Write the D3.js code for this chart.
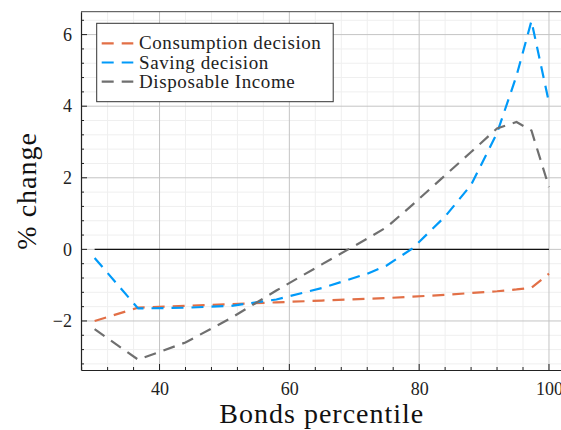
<!DOCTYPE html>
<html>
<head>
<meta charset="utf-8">
<script src="https://cdn.jsdelivr.net/npm/d3@7"></script>
<style>
  body { margin: 0; background: #fff; }
  text { font-family: "Liberation Serif", "DejaVu Serif", serif; }
</style>
</head>
<body>
<div id="chart"></div>
<script>
// values
var percentiles = [30, 36.7, 44, 51, 58, 65, 72, 75, 79, 84, 88, 92, 95, 97.3, 100];
var consumption = [-2.00, -1.63, -1.58, -1.53, -1.48, -1.43, -1.38, -1.36, -1.32, -1.27, -1.22, -1.17, -1.12, -1.07, -0.68];
var saving      = [-0.24, -1.65, -1.63, -1.58, -1.40, -1.08, -0.68, -0.45, 0.03, 0.92, 1.80, 3.25, 4.85, 6.38, 4.10];
var income      = [-2.23, -3.08, -2.60, -1.92, -1.15, -0.42, 0.30, 0.62, 1.25, 2.07, 2.72, 3.38, 3.56, 3.32, 1.74];
var seriesNames = ["Consumption decision", "Saving decision", "Disposable Income"];
var seriesColors = ["#e26f46", "#009af9", "#6f6f6f"];
var xTicks = [40, 60, 80, 100];
var yTicks = [-2, 0, 2, 4, 6];

var width = 561, height = 430;
var plotLeft = 81, plotTop = 11.7, plotRight = 562.6, plotBottom = 370;

var svg = d3.select("#chart").append("svg")
            .attr("width", width)
            .attr("height", height);

var x = d3.scaleLinear().domain([27.9, 102.1]).range([plotLeft, plotRight]);
var y = d3.scaleLinear().domain([-3.37, 6.64]).range([plotBottom, plotTop]);

// minor grid
var xMinor = d3.range(28, 102.1, 4).filter(function (d) { return d % 20 != 0; });
var yMinor = d3.range(-3.2, 6.61, 0.4).map(function (d) { return Math.round(d * 10) / 10; })
               .filter(function (d) { return Math.abs(d % 2) > 0.01; });

svg.append("g").selectAll("line").data(xMinor).enter().append("line")
   .attr("x1", function (d) { return x(d); }).attr("x2", function (d) { return x(d); })
   .attr("y1", plotTop).attr("y2", plotBottom)
   .attr("stroke", "#efefef").attr("stroke-width", 1);

svg.append("g").selectAll("line").data(yMinor).enter().append("line")
   .attr("y1", function (d) { return y(d); }).attr("y2", function (d) { return y(d); })
   .attr("x1", plotLeft).attr("x2", plotRight)
   .attr("stroke", "#efefef").attr("stroke-width", 1);

// major grid
svg.append("g").selectAll("line").data(xTicks).enter().append("line")
   .attr("x1", function (d) { return x(d); }).attr("x2", function (d) { return x(d); })
   .attr("y1", plotTop).attr("y2", plotBottom)
   .attr("stroke", "#c4c4c4").attr("stroke-width", 1);

svg.append("g").selectAll("line").data(yTicks).enter().append("line")
   .attr("y1", function (d) { return y(d); }).attr("y2", function (d) { return y(d); })
   .attr("x1", plotLeft).attr("x2", plotRight)
   .attr("stroke", "#c4c4c4").attr("stroke-width", 1);

// zero line
svg.append("line")
   .attr("x1", x(percentiles[0])).attr("x2", x(percentiles[percentiles.length - 1]))
   .attr("y1", y(0)).attr("y2", y(0))
   .attr("stroke", "#111").attr("stroke-width", 1.2);

// series
var line = d3.line()
             .x(function (d) { return x(d[0]); })
             .y(function (d) { return y(d[1]); });

[consumption, saving, income].forEach(function (vals, i) {
  svg.append("path")
     .datum(d3.zip(percentiles, vals))
     .attr("d", line)
     .attr("fill", "none")
     .attr("stroke", seriesColors[i])
     .attr("stroke-width", 2.2)
     .attr("stroke-dasharray", "12,8");
});

// frame
svg.append("line").attr("x1", plotLeft).attr("x2", plotRight).attr("y1", plotTop).attr("y2", plotTop)
   .attr("stroke", "#444").attr("stroke-width", 1);

var xAxis = d3.axisBottom(x).tickValues(xTicks).tickSize(0).tickPadding(10);
var gx = svg.append("g").attr("transform", "translate(0," + plotBottom + ")").call(xAxis);
gx.select(".domain").attr("stroke", "#222").attr("stroke-width", 1.2);
gx.selectAll("text").attr("font-size", "18px").attr("fill", "#222")
  .style("font-family", "'Liberation Serif', serif").attr("dy", "0.85em");

var yAxis = d3.axisLeft(y).tickValues(yTicks).tickSize(0).tickPadding(9)
              .tickFormat(function (d) { return d < 0 ? "\u2212" + Math.abs(d) : d; });
var gy = svg.append("g").attr("transform", "translate(" + plotLeft + ",0)").call(yAxis);
gy.select(".domain").attr("stroke", "#222").attr("stroke-width", 1.2);
gy.selectAll("text").attr("font-size", "18px").attr("fill", "#222")
  .style("font-family", "'Liberation Serif', serif");

// inward ticks
svg.append("g").selectAll("line").data(xTicks).enter().append("line")
   .attr("x1", function (d) { return x(d); }).attr("x2", function (d) { return x(d); })
   .attr("y1", plotBottom).attr("y2", plotBottom - 6)
   .attr("stroke", "#222");
svg.append("g").selectAll("line").data(xMinor).enter().append("line")
   .attr("x1", function (d) { return x(d); }).attr("x2", function (d) { return x(d); })
   .attr("y1", plotBottom).attr("y2", plotBottom - 3)
   .attr("stroke", "#222");
svg.append("g").selectAll("line").data(yTicks).enter().append("line")
   .attr("y1", function (d) { return y(d); }).attr("y2", function (d) { return y(d); })
   .attr("x1", plotLeft).attr("x2", plotLeft + 6)
   .attr("stroke", "#222");
svg.append("g").selectAll("line").data(yMinor).enter().append("line")
   .attr("y1", function (d) { return y(d); }).attr("y2", function (d) { return y(d); })
   .attr("x1", plotLeft).attr("x2", plotLeft + 3)
   .attr("stroke", "#222");

// axis labels
svg.append("text")
   .attr("x", (plotLeft + plotRight) / 2)
   .attr("y", 423)
   .attr("text-anchor", "middle")
   .attr("font-size", "28px")
   .attr("letter-spacing", "1px")
   .attr("fill", "#111")
   .text("Bonds percentile");

svg.append("text")
   .attr("transform", "translate(36," + (plotTop + plotBottom) / 2 + ") rotate(-90)")
   .attr("text-anchor", "middle")
   .attr("font-size", "28px")
   .attr("letter-spacing", "1px")
   .attr("fill", "#111")
   .text("% change");

// legend
var legend = svg.append("g");
legend.append("rect")
      .attr("x", 96.7).attr("y", 23.3)
      .attr("width", 236.5).attr("height", 78.4)
      .attr("fill", "#fff")
      .attr("stroke", "#333").attr("stroke-width", 1);

seriesNames.forEach(function (name, i) {
  var ly = 43.3 + i * 19.2;
  legend.append("line")
        .attr("x1", 101.7).attr("x2", 133.3)
        .attr("y1", ly).attr("y2", ly)
        .attr("stroke", seriesColors[i])
        .attr("stroke-width", 2.2)
        .attr("stroke-dasharray", "12,8");
  legend.append("text")
        .attr("x", 139)
        .attr("y", ly + 6)
        .attr("font-size", "19px")
        .attr("letter-spacing", "0.6px")
        .attr("fill", "#222")
        .text(name);
});
</script>
</body>
</html>
